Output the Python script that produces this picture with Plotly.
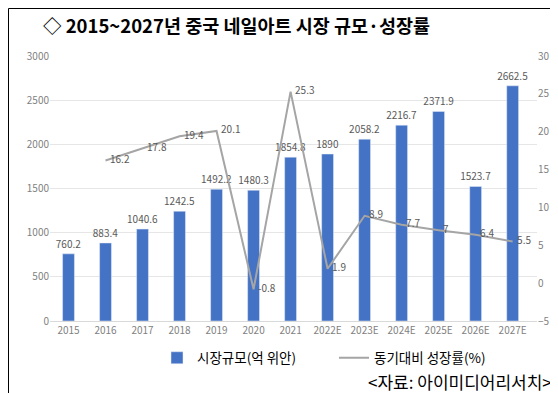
import plotly.graph_objects as go

years = ["2015", "2016", "2017", "2018", "2019", "2020", "2021",
         "2022E", "2023E", "2024E", "2025E", "2026E", "2027E"]
market_size = [760.2, 883.4, 1040.6, 1242.5, 1492.2, 1480.3, 1854.8,
               1890, 2058.2, 2216.7, 2371.9, 1523.7, 2662.5]
growth_years = years[1:]
growth_rate = [16.2, 17.8, 19.4, 20.1, -0.8, 25.3, 1.9, 8.9, 7.7, 7, 6.4, 5.5]

W, H = 558, 393
ML, MR, MT, MB = 42, 29, 48, 80
PW, PH = W - ML - MR, H - MT - MB

FONT = "Noto Sans CJK KR"

fig = go.Figure()
fig.add_trace(go.Bar(
    x=years, y=market_size, name="시장규모(억 위안)",
    marker=dict(color="#4472C4"),
    text=[f"{v:g}" for v in market_size], textposition="outside",
    constraintext="none",
    textfont=dict(family=FONT, size=10, color="#595959"),
    cliponaxis=False,
))
fig.add_trace(go.Scatter(
    x=growth_years, y=growth_rate, name="동기대비 성장률(%)", yaxis="y2",
    mode="lines+text", line=dict(color="#A5A5A5", width=2),
    text=[f"  {v:g}" for v in growth_rate], textposition="middle right",
    textfont=dict(family=FONT, size=10, color="#595959"),
    cliponaxis=False,
))

fig.update_layout(
    width=W, height=H,
    margin=dict(l=ML, r=MR, t=MT, b=MB),
    paper_bgcolor="white", plot_bgcolor="white",
    bargap=0.68,
    font=dict(family=FONT),
    title=dict(text="◇ 2015~2027년 중국 네일아트 시장 규모·성장률",
               font=dict(family=FONT, size=18.5, color="black", weight="bold"),
               xref="container", yref="container", pad=dict(l=0, r=0, t=0, b=0),
               x=35 / W, xanchor="left", y=1 - 19 / H, yanchor="middle"),
    xaxis=dict(type="category", showline=True, linecolor="#D9D9D9",
               tickfont=dict(family=FONT, size=10, color="#7F7F7F"), ticks=""),
    yaxis=dict(range=[0, 3000], dtick=500, showgrid=True, gridcolor="#E6E6E6",
               zeroline=False,
               tickfont=dict(family=FONT, size=10, color="#7F7F7F")),
    yaxis2=dict(range=[-5, 30], dtick=5, overlaying="y", side="right",
                showgrid=False, zeroline=False,
                tickfont=dict(family=FONT, size=10, color="#7F7F7F")),
    legend=dict(orientation="h", x=(326 - ML) / PW, xanchor="center",
                y=(MT + PH - 350) / PH, yanchor="middle",
                font=dict(family=FONT, size=13.5, color="black"),
                entrywidth=132, entrywidthmode="pixels", itemwidth=30),
    showlegend=True,
)

fig.add_annotation(
    text="<자료: 아이미디어리서치>".replace("<", "&lt;").replace(">", "&gt;"),
    xref="paper", yref="paper",
    x=(546 - ML) / PW, y=(MT + PH - 373) / PH,
    xanchor="right", yanchor="middle", showarrow=False,
    font=dict(family=FONT, size=17, color="black"),
)

fig.add_shape(
    type="rect", xref="paper", yref="paper",
    x0=(0.5 - ML) / PW, x1=(W - 1.5 - ML) / PW,
    y0=(MT + PH - (H - 1.5)) / PH, y1=(MT + PH - 0.5) / PH,
    line=dict(color="black", width=1), fillcolor="rgba(0,0,0,0)", layer="above",
)

fig.write_html("out.html")
